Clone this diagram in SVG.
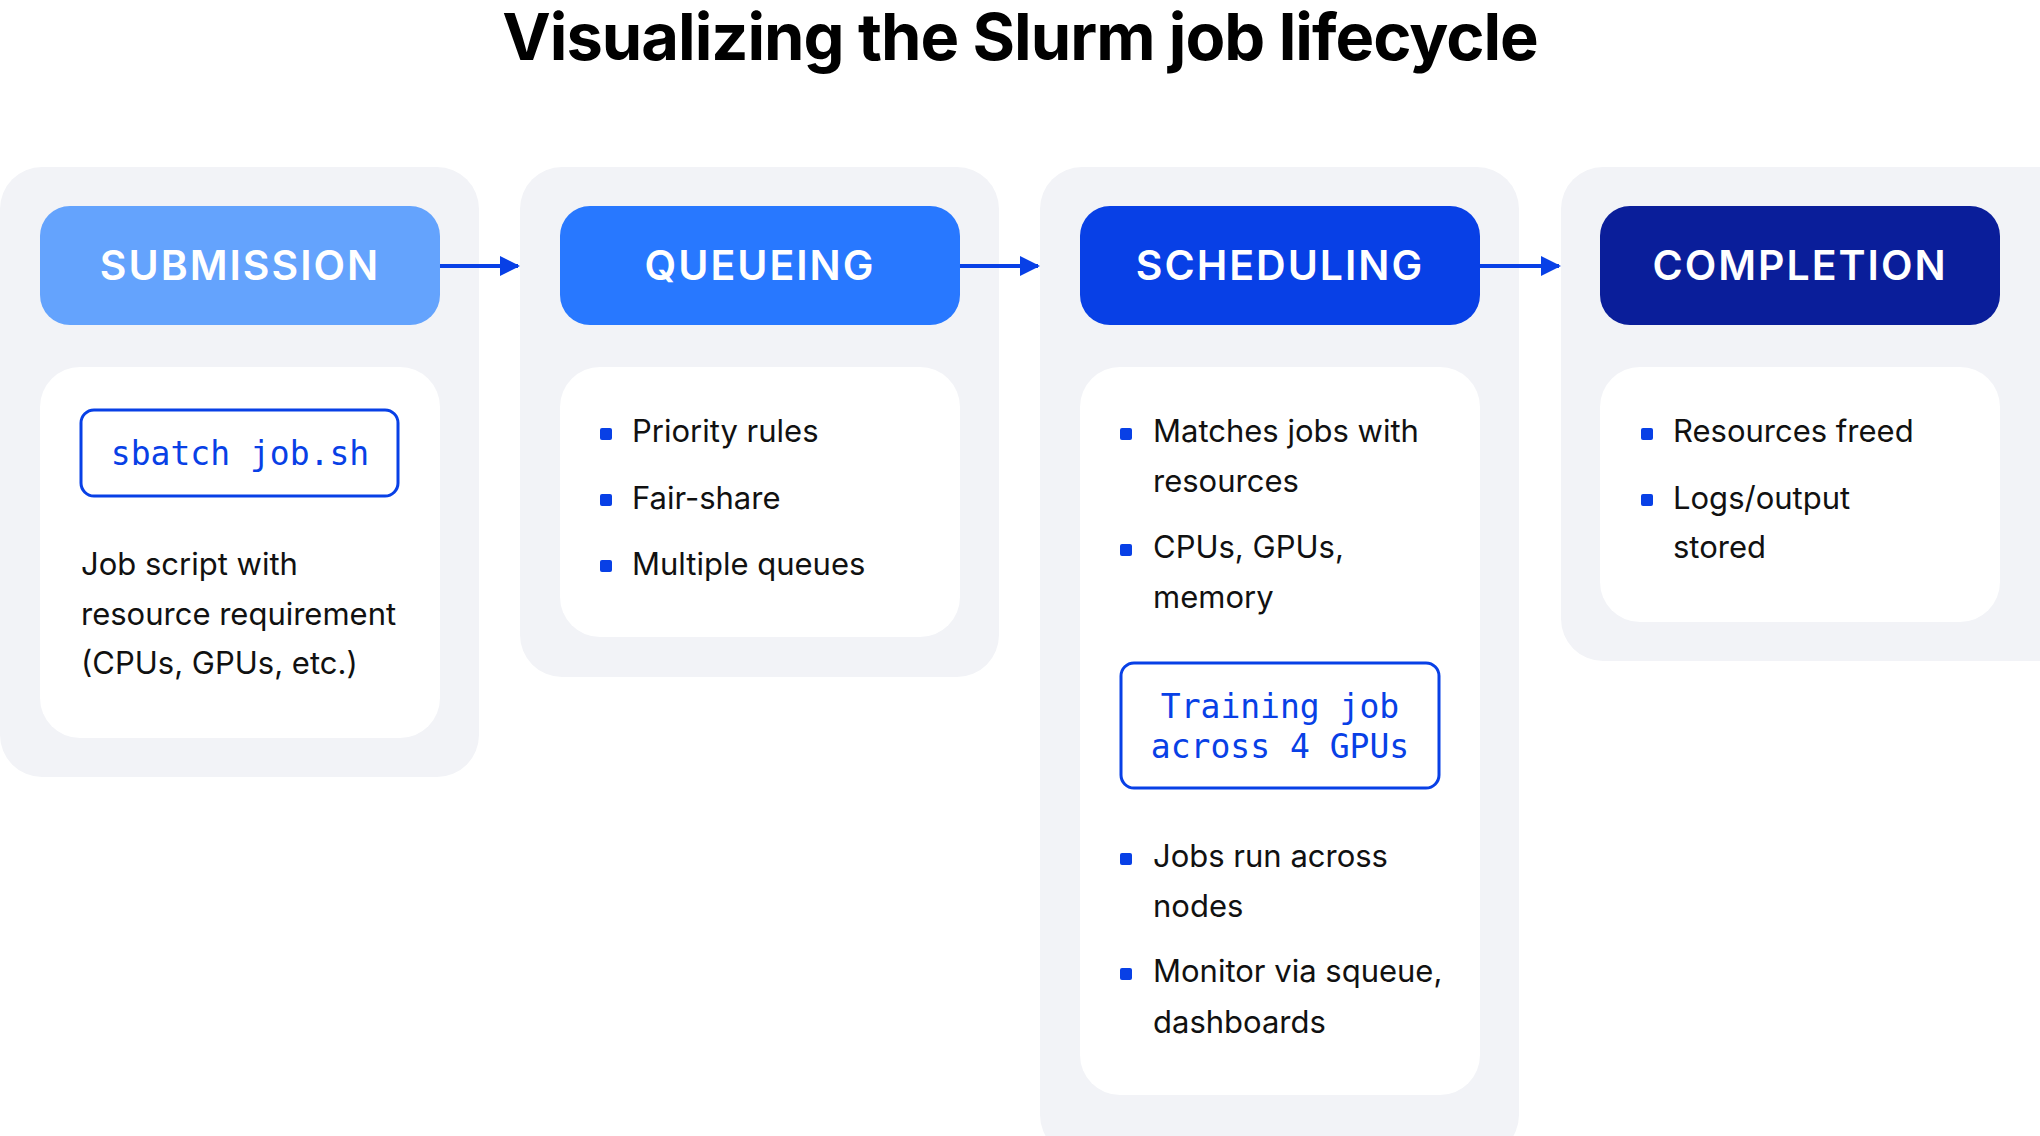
<svg xmlns="http://www.w3.org/2000/svg" width="2040" height="1136" viewBox="0 0 2040 1136">
<style>
.col{fill:#F2F3F7}
.card{fill:#fff}
.hd{font-family:Inter,"Liberation Sans",sans-serif;font-weight:600;font-size:41px;fill:#fff;text-anchor:middle;letter-spacing:2px}
.t{font-family:Inter,"Liberation Sans",sans-serif;font-size:31px;fill:#111}
.code{font-family:"DejaVu Sans Mono","Liberation Mono",monospace;font-size:33px;fill:#0840E6;text-anchor:middle}
.box{fill:#fff;stroke:#0840E6;stroke-width:3}
.b{fill:#0840E6}
.ar{stroke:#0840E6;stroke-width:4;fill:none}
</style>
<defs>
<marker id="ah" viewBox="0 0 10 10" refX="9" refY="5" markerWidth="5" markerHeight="6" markerUnits="strokeWidth" orient="auto"><path d="M0,0 L10,5 L0,10 Z" fill="#0840E6"/></marker>
</defs>
<rect width="2040" height="1136" fill="#fff"/>
<text x="1020" y="60" text-anchor="middle" font-family="Inter,'Liberation Sans',sans-serif" font-weight="700" font-size="65" fill="#000" letter-spacing="-1">Visualizing the Slurm job lifecycle</text>

<g id="submission">
<rect class="col" x="0" y="167" width="479" height="610" rx="42"/>
<rect x="40" y="206" width="400" height="119" rx="30" fill="#64A3FD"/>
<text class="hd" x="240" y="280">SUBMISSION</text>
<rect class="card" x="40" y="367" width="400" height="371" rx="40"/>
<rect class="box" x="81" y="410" width="317" height="86" rx="13"/>
<text class="code" x="240" y="465">sbatch job.sh</text>
<text class="t" x="81" y="575">Job script with</text>
<text class="t" x="81" y="625">resource requirement</text>
<text class="t" x="81" y="674">(CPUs, GPUs, etc.)</text>
</g>

<g id="queueing">
<rect class="col" x="520" y="167" width="479" height="510" rx="42"/>
<rect x="560" y="206" width="400" height="119" rx="30" fill="#2878FF"/>
<text class="hd" x="760" y="280">QUEUEING</text>
<rect class="card" x="560" y="367" width="400" height="270" rx="40"/>
<rect class="b" x="600" y="428" width="12" height="12" rx="2"/>
<text class="t" x="632" y="442">Priority rules</text>
<rect class="b" x="600" y="494" width="12" height="12" rx="2"/>
<text class="t" x="632" y="509">Fair-share</text>
<rect class="b" x="600" y="560" width="12" height="12" rx="2"/>
<text class="t" x="632" y="575">Multiple queues</text>
</g>

<g id="scheduling">
<rect class="col" x="1040" y="167" width="479" height="990" rx="42"/>
<rect x="1080" y="206" width="400" height="119" rx="30" fill="#0840E6"/>
<text class="hd" x="1280" y="280">SCHEDULING</text>
<rect class="card" x="1080" y="367" width="400" height="728" rx="40"/>
<rect class="b" x="1120" y="428" width="12" height="12" rx="2"/>
<text class="t" x="1153" y="442">Matches jobs with</text>
<text class="t" x="1153" y="492">resources</text>
<rect class="b" x="1120" y="544" width="12" height="12" rx="2"/>
<text class="t" x="1153" y="558">CPUs, GPUs,</text>
<text class="t" x="1153" y="608">memory</text>
<rect class="box" x="1121" y="663" width="318" height="125" rx="13"/>
<text class="code" x="1280" y="718">Training job</text>
<text class="code" x="1280" y="758">across 4 GPUs</text>
<rect class="b" x="1120" y="853" width="12" height="12" rx="2"/>
<text class="t" x="1153" y="867">Jobs run across</text>
<text class="t" x="1153" y="917">nodes</text>
<rect class="b" x="1120" y="968" width="12" height="12" rx="2"/>
<text class="t" x="1153" y="982">Monitor via squeue,</text>
<text class="t" x="1153" y="1033">dashboards</text>
</g>

<g id="completion">
<rect class="col" x="1561" y="167" width="520" height="494" rx="42"/>
<rect x="1600" y="206" width="400" height="119" rx="30" fill="#0A1E9A"/>
<text class="hd" x="1800" y="280">COMPLETION</text>
<rect class="card" x="1600" y="367" width="400" height="255" rx="40"/>
<rect class="b" x="1641" y="428" width="12" height="12" rx="2"/>
<text class="t" x="1673" y="442">Resources freed</text>
<rect class="b" x="1641" y="494" width="12" height="12" rx="2"/>
<text class="t" x="1673" y="509">Logs/output</text>
<text class="t" x="1673" y="558">stored</text>
</g>

<g id="connectors">
<line class="ar" x1="440" y1="266" x2="518" y2="266" marker-end="url(#ah)"/>
<line class="ar" x1="960" y1="266" x2="1038" y2="266" marker-end="url(#ah)"/>
<line class="ar" x1="1480" y1="266" x2="1559" y2="266" marker-end="url(#ah)"/>
</g>
</svg>
